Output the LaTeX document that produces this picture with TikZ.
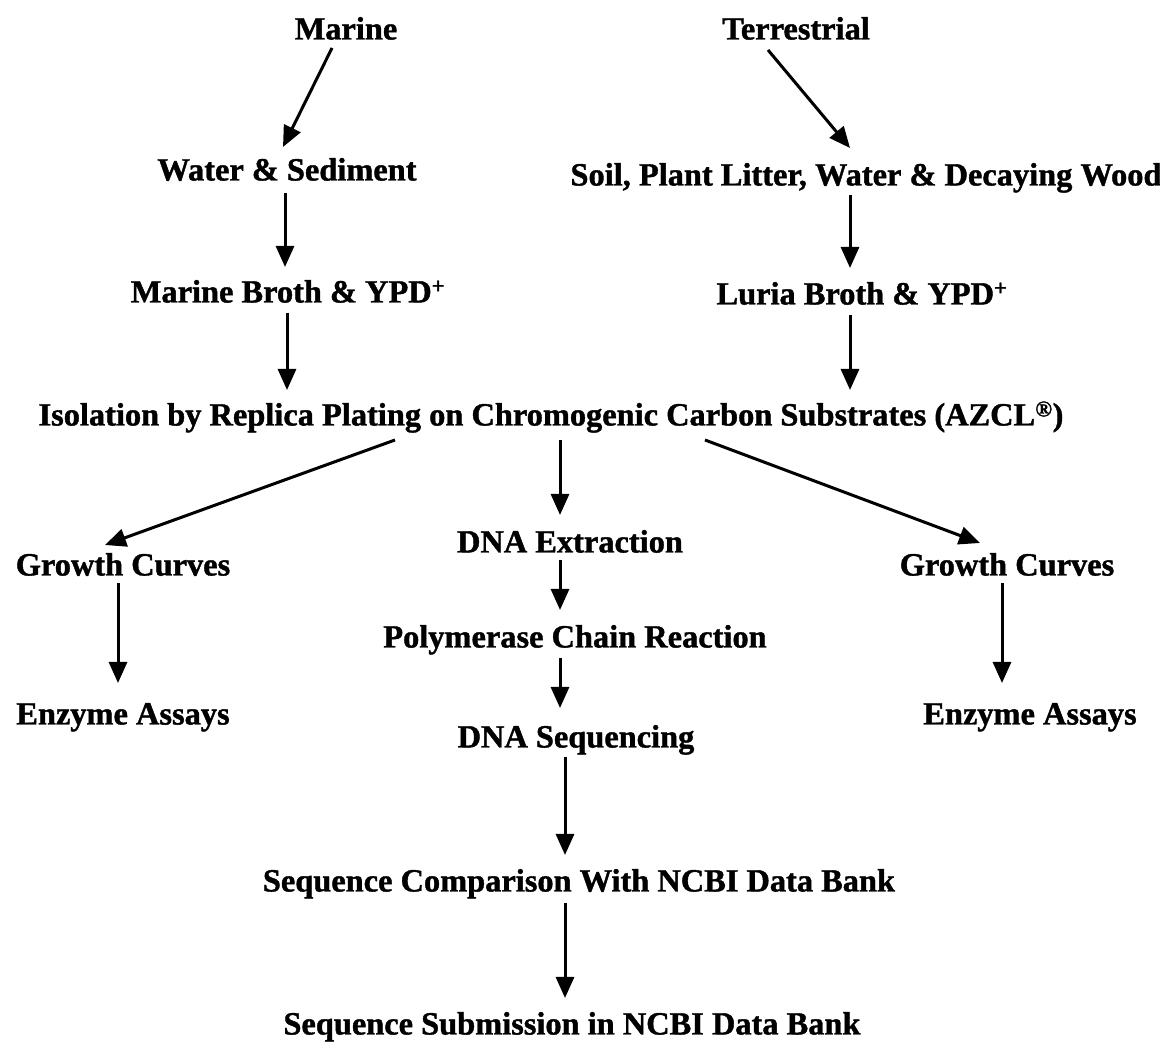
\documentclass[tikz,border=0pt]{standalone}
\usepackage{fontspec}
\setmainfont{Liberation Serif}[BoldFeatures={FakeBold=1.2}]
\usetikzlibrary{arrows.meta,calc}
\begin{document}
\begin{tikzpicture}[x=1pt,y=1pt,
  lbl/.style={inner sep=0pt,font=\fontsize{32.4}{38}\selectfont\bfseries,text height=22pt,text depth=7pt},
  arr/.style={line width=3pt,-{Triangle[length=21pt,width=18pt]}}]
\useasboundingbox[fill=white] (0,0) rectangle (1160,1044);
\node[lbl] (marine) at (346,1012) {Marine};
\node[lbl] (terr) at (796,1012) {Terrestrial};
\node[lbl] (water) at (287,871) {Water \& Sediment};
\node[lbl] (soil) at (866,866) {Soil, Plant Litter, Water \& Decaying Wood};
\node[lbl] (mbroth) at (288,749) {Marine Broth \& YPD\textsuperscript{+}};
\node[lbl] (lbroth) at (862,747) {Luria Broth \& YPD\textsuperscript{+}};
\node[lbl] (iso) at (551,626) {Isolation by Replica Plating on Chromogenic Carbon Substrates (AZCL\textsuperscript{\textregistered})};
\node[lbl] (growL) at (123,476) {Growth Curves};
\node[lbl] (dnaext) at (570,499) {DNA Extraction};
\node[lbl] (growR) at (1007,476) {Growth Curves};
\node[lbl] (pcr) at (575,404) {Polymerase Chain Reaction};
\node[lbl] (enzL) at (123,327) {Enzyme Assays};
\node[lbl] (enzR) at (1030,327) {Enzyme Assays};
\node[lbl] (dnaseq) at (576,304) {DNA Sequencing};
\node[lbl] (seqcomp) at (579,160) {Sequence Comparison With NCBI Data Bank};
\node[lbl] (seqsub) at (572,17) {Sequence Submission in NCBI Data Bank};
\draw[arr] ($(marine.center)+(-14,-16)$) -- ($(water.center)+(-4,26)$);
\draw[arr] ($(terr.center)+(-28,-18)$) -- ($(soil.center)+(-16,30)$);
\draw[arr] ($(water.center)+(-2,-20)$) -- ($(mbroth.center)+(-3,28)$);
\draw[arr] ($(soil.center)+(-16,-17)$) -- ($(lbroth.center)+(-12,29)$);
\draw[arr] ($(mbroth.center)+(-1,-18)$) -- ($(iso.center)+(-264,28)$);
\draw[arr] ($(lbroth.center)+(-12,-18)$) -- ($(iso.center)+(299,28)$);
\draw[arr] ($(iso.center)+(-156,-22)$) -- ($(growL.center)+(-18,23)$);
\draw[arr] ($(iso.center)+(9,-22)$) -- ($(dnaext.center)+(-10,30)$);
\draw[arr] ($(iso.center)+(154,-22)$) -- ($(growR.center)+(-27,25)$);
\draw[arr] ($(growL.center)+(-5,-15)$) -- ($(enzL.center)+(-5,34)$);
\draw[arr] ($(growR.center)+(-5,-15)$) -- ($(enzR.center)+(-28,34)$);
\draw[arr] ($(dnaext.center)+(-10,-15)$) -- ($(pcr.center)+(-15,30)$);
\draw[arr] ($(pcr.center)+(-15,-18)$) -- ($(dnaseq.center)+(-16,32)$);
\draw[arr] ($(dnaseq.center)+(-11,-17)$) -- ($(seqcomp.center)+(-14,29)$);
\draw[arr] ($(seqcomp.center)+(-14,-19)$) -- ($(seqsub.center)+(-7,29)$);
\end{tikzpicture}
\end{document}
